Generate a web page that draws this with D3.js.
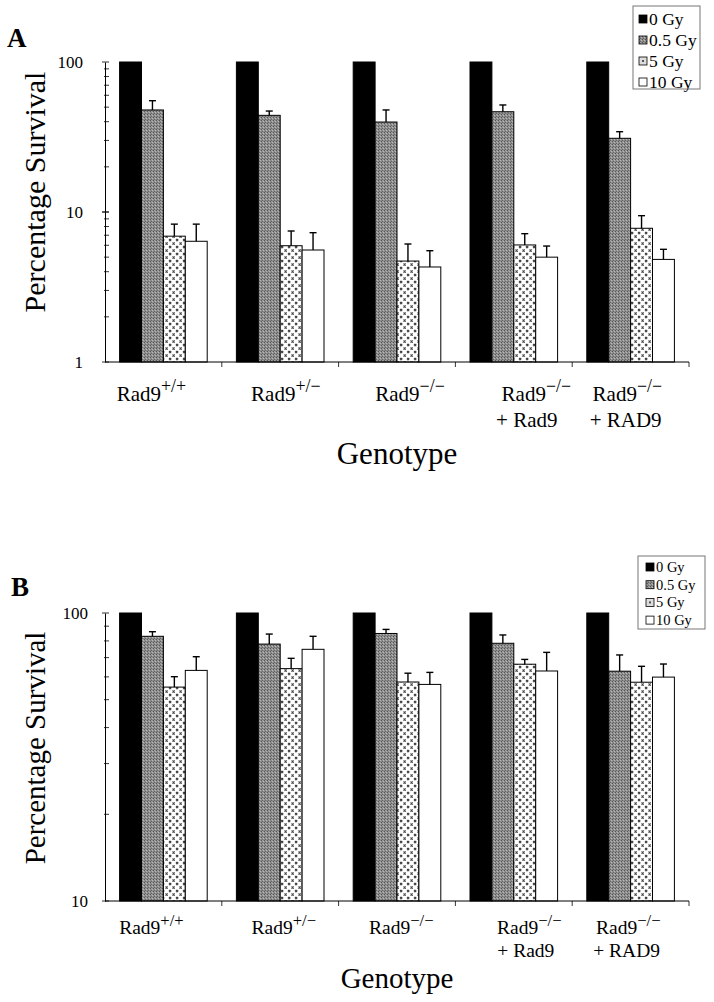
<!DOCTYPE html>
<html><head><meta charset="utf-8">
<script src="https://cdn.jsdelivr.net/npm/d3@7"></script>
<style>html,body{margin:0;padding:0;background:#fff;}svg{display:block;}</style>
</head><body>
<svg id="chart" width="714" height="1002"></svg>
<script>
// ---------- DATA ----------
const genoMain  = ["Rad9", "Rad9", "Rad9", "Rad9", "Rad9"];
const genoSup   = ["+/+", "+/\u2212", "\u2212/\u2212", "\u2212/\u2212", "\u2212/\u2212"];
const genoLine2 = ["", "", "", "+ Rad9", "+ RAD9"];
const series = ["0 Gy", "0.5 Gy", "5 Gy", "10 Gy"];

// Panel A (percentage survival)
const a0Gy   = [100, 100, 100, 100, 100];
const a05Gy  = [47.9, 44.1, 39.8, 46.6, 31.0];
const a5Gy   = [6.9, 5.96, 4.71, 6.03, 7.79];
const a10Gy  = [6.38, 5.58, 4.3, 5.0, 4.83];
const a05Err = [55.2, 47.1, 47.9, 51.7, 34.3];   // top of error bar
const a5Err  = [8.3, 7.47, 6.12, 7.17, 9.45];
const a10Err = [8.3, 7.28, 5.52, 5.93, 5.64];
const aTicks = [1, 10, 100];

// Panel B
const b0Gy   = [100, 100, 100, 100, 100];
const b05Gy  = [83.0, 78.0, 84.9, 78.5, 62.8];
const b5Gy   = [55.3, 64.1, 57.6, 66.4, 57.5];
const b10Gy  = [63.2, 74.8, 56.5, 62.9, 59.9];
const b05Err = [86.1, 84.5, 87.7, 83.9, 71.5];
const b5Err  = [60.1, 69.6, 61.8, 69.0, 65.3];
const b10Err = [70.5, 83.0, 62.2, 73.0, 66.5];
const bTicks = [10, 100];

// ---------- DRAW ----------
const FONT = "'Liberation Serif','Times New Roman',Times,serif";
const svg = d3.select("#chart");
svg.append("rect").attr("width", 714).attr("height", 1002).attr("fill", "#fff");

const defs = svg.append("defs");
// grey stipple
const pg = defs.append("pattern").attr("id", "grey").attr("patternUnits", "userSpaceOnUse")
  .attr("width", 3).attr("height", 3);
pg.append("rect").attr("width", 3).attr("height", 3).attr("fill", "#8c8c8c");
[[0,0,"#555"],[2,1,"#b8b8b8"],[1,2,"#666"],[1,0,"#a0a0a0"]].forEach(p =>
  pg.append("rect").attr("x", p[0]).attr("y", p[1]).attr("width", 1).attr("height", 1).attr("fill", p[2]));
// dotted
const pd = defs.append("pattern").attr("id", "dots").attr("patternUnits", "userSpaceOnUse")
  .attr("width", 7).attr("height", 7);
pd.append("rect").attr("width", 7).attr("height", 7).attr("fill", "#fff");
[[1,1],[4.5,4.5]].forEach(p =>
  pd.append("path").attr("d", `M${p[0]},${p[1]}l2.2,2.2M${p[0]+2.2},${p[1]}l-2.2,2.2`)
    .attr("stroke", "#444").attr("stroke-width", 1.1));

const fills = ["#000", "url(#grey)", "url(#dots)", "#fff"];

function panel(cfg) {
  const g = svg.append("g");
  const x0 = d3.scaleBand().domain(d3.range(genoMain.length)).range([105, 689])
    .paddingInner(0.25).paddingOuter(0.125);
  const x1 = d3.scaleBand().domain(series).range([0, x0.bandwidth()]);
  const y = d3.scaleLog().domain(cfg.domain).range(cfg.range);

  // bars
  cfg.values.forEach((vals, si) => {
    g.selectAll(null).data(vals).enter().append("rect")
      .attr("x", (d, i) => x0(i) + x1(series[si]))
      .attr("width", x1.bandwidth())
      .attr("y", d => y(d))
      .attr("height", d => y(cfg.domain[0]) - y(d))
      .attr("fill", fills[si]).attr("stroke", "#000").attr("stroke-width", 1);
  });
  // error bars
  cfg.errs.forEach((tops, k) => {
    const si = k + 1;
    const vals = cfg.values[si];
    tops.forEach((t, i) => {
      const cx = x0(i) + x1(series[si]) + x1.bandwidth() / 2;
      g.append("line").attr("x1", cx).attr("x2", cx).attr("y1", y(vals[i])).attr("y2", y(t))
        .attr("stroke", "#000").attr("stroke-width", 1.4);
      g.append("line").attr("x1", cx - 3.5).attr("x2", cx + 3.5).attr("y1", y(t)).attr("y2", y(t))
        .attr("stroke", "#000").attr("stroke-width", 1.4);
    });
  });

  // y axis
  const yAxis = d3.axisLeft(y).tickValues(cfg.ticks).tickFormat(d3.format("d")).tickSize(0);
  const ya = g.append("g").attr("transform", "translate(105,0)").call(yAxis);
  ya.select(".domain").attr("stroke", "#000").attr("stroke-width", 1);
  ya.selectAll("text").attr("font-family", FONT).attr("font-size", cfg.tickFont)
    .attr("fill", "#000").attr("x", cfg.tickX).attr("dy", "0.32em");
  // minor + major ticks
  const minor = [];
  for (let dec = cfg.domain[0]; dec < cfg.domain[1]; dec *= 10)
    for (let m = 1; m <= 10; m++) minor.push(dec * m);
  g.selectAll(null).data(minor).enter().append("line")
    .attr("x1", d => cfg.ticks.includes(d) ? 102 : 104).attr("x2", 109)
    .attr("y1", d => y(d)).attr("y2", d => y(d))
    .attr("stroke", "#000").attr("stroke-width", 0.8);

  // x axis
  const base = y(cfg.domain[0]);
  g.append("line").attr("x1", 105).attr("x2", 689).attr("y1", base).attr("y2", base)
    .attr("stroke", "#000").attr("stroke-width", 1);
  const bounds = d3.range(genoMain.length + 1).map(i => 105 + i * x0.step());
  g.selectAll(null).data(bounds.slice(1)).enter().append("line")
    .attr("x1", d => d).attr("x2", d => d).attr("y1", base).attr("y2", base + 5)
    .attr("stroke", "#000").attr("stroke-width", 0.8);

  // category labels
  genoMain.forEach((m, i) => {
    const cx = x0(i) + x0.bandwidth() / 2 + cfg.labelDx[i];
    const t = g.append("text").attr("x", cx).attr("y", cfg.labelY)
      .attr("text-anchor", "middle").attr("font-family", FONT)
      .attr("font-size", cfg.labelFont).attr("fill", "#000");
    t.append("tspan").text(m);
    t.append("tspan").attr("dy", -cfg.labelFont * 0.42).attr("font-size", cfg.labelFont * 0.85).text(genoSup[i]);
    if (genoLine2[i]) {
      g.append("text").attr("x", x0(i) + x0.bandwidth() / 2 + cfg.line2Dx[i])
        .attr("y", cfg.labelY + cfg.line2Gap).attr("text-anchor", "middle")
        .attr("font-family", FONT).attr("font-size", cfg.labelFont).attr("fill", "#000")
        .text(genoLine2[i]);
    }
  });
  g.append("text").attr("x", 397).attr("y", cfg.titleY).attr("text-anchor", "middle")
    .attr("font-family", FONT).attr("font-size", cfg.titleFont).attr("fill", "#000").text("Genotype");
  g.append("text").attr("transform", `translate(${cfg.yTitleX},${cfg.yTitleY}) rotate(-90)`)
    .attr("text-anchor", "middle").attr("font-family", FONT).attr("font-size", cfg.yTitleFont)
    .attr("fill", "#000").text("Percentage Survival");
  g.append("text").attr("x", cfg.letterX).attr("y", cfg.letterY).attr("font-family", FONT)
    .attr("font-weight", "bold").attr("font-size", 27).attr("fill", "#000").text(cfg.letter);

  // legend
  const L = cfg.legend;
  const lg = g.append("g").attr("transform", `translate(${L.x},${L.y})`);
  lg.append("rect").attr("width", L.w).attr("height", L.h).attr("fill", "#fff")
    .attr("stroke", "#777").attr("stroke-width", 1);
  series.forEach((s, si) => {
    const cy = L.first + si * L.step;
    lg.append("rect").attr("x", L.sx).attr("y", cy - 4).attr("width", 8).attr("height", 8)
      .attr("fill", si === 2 ? "#ddd" : fills[si]).attr("stroke", "#000").attr("stroke-width", 0.8);
    if (si === 2) lg.append("rect").attr("x", L.sx + 3).attr("y", cy - 1).attr("width", 2).attr("height", 2).attr("fill", "#555");
    lg.append("text").attr("x", L.sx + 10).attr("y", cy).attr("dy", "0.35em")
      .attr("font-family", FONT).attr("font-size", L.font).attr("fill", "#000").text(s);
  });
}

panel({
  domain: [1, 100], range: [362, 62], ticks: aTicks,
  values: [a0Gy, a05Gy, a5Gy, a10Gy], errs: [a05Err, a5Err, a10Err],
  tickFont: 17, tickX: -22,
  labelDx: [-12, 5.6, 13, 22.5, -3.3], line2Dx: [0, 0, 0, 13, -5],
  labelY: 401, line2Gap: 26, labelFont: 21,
  titleY: 464, titleFont: 31,
  yTitleX: 45, yTitleY: 192, yTitleFont: 30,
  letter: "A", letterX: 7, letterY: 47,
  legend: {x: 633, y: 6, w: 67, h: 83, sx: 6, first: 13, step: 21, font: 17.5}
});
panel({
  domain: [10, 100], range: [901, 613], ticks: bTicks,
  values: [b0Gy, b05Gy, b5Gy, b10Gy], errs: [b05Err, b5Err, b10Err],
  tickFont: 17, tickX: -17,
  labelDx: [-12, 3.6, 4.3, 15.5, -2.3], line2Dx: [0, 0, 0, 12, -4],
  labelY: 934, line2Gap: 23, labelFont: 19.5,
  titleY: 988, titleFont: 29,
  yTitleX: 45, yTitleY: 748, yTitleFont: 29,
  letter: "B", letterX: 11, letterY: 596,
  legend: {x: 638, y: 556, w: 67, h: 73, sx: 8, first: 11, step: 17.7, font: 14.5}
});
</script>
</body></html>
